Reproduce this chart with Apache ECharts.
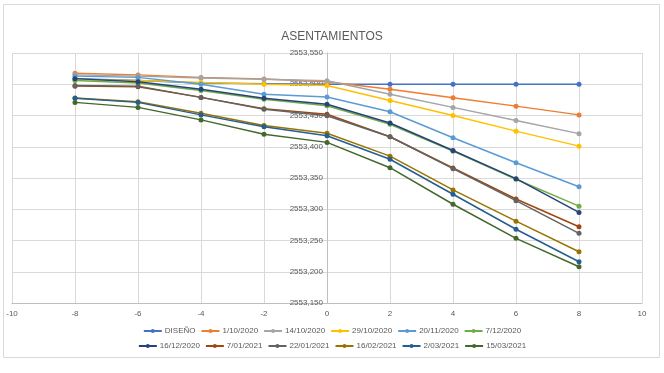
<!DOCTYPE html>
<html><head><meta charset="utf-8">
<script src="https://cdn.jsdelivr.net/npm/echarts@6/dist/echarts.min.js"></script>
<style>html,body{margin:0;padding:0;background:#fff}#c{width:664px;height:373px}</style>
</head><body><div id="c"></div>
<script>
const xValues = [-8, -6, -4, -2, 0, 2, 4, 6, 8];
const seriesNames = ['DISEÑO','1/10/2020','14/10/2020','29/10/2020','20/11/2020','7/12/2020','16/12/2020','7/01/2021','22/01/2021','16/02/2021','2/03/2021','15/03/2021'];
const diseno   = [2553.509, 2553.506, 2553.502, 2553.501, 2553.500, 2553.500, 2553.500, 2553.500, 2553.500];
const s011020  = [2553.5175, 2553.515, 2553.511, 2553.5085, 2553.504, 2553.492, 2553.4785, 2553.465, 2553.451];
const s141020  = [2553.515, 2553.513, 2553.510, 2553.508, 2553.5057, 2553.484, 2553.463, 2553.442, 2553.421];
const s291020  = [2553.507, 2553.506, 2553.503, 2553.500, 2553.498, 2553.474, 2553.450, 2553.425, 2553.401];
const s201120  = [2553.513, 2553.511, 2553.500, 2553.484, 2553.4796, 2553.456, 2553.4145, 2553.3745, 2553.336];
const s071220  = [2553.506, 2553.502, 2553.490, 2553.476, 2553.4657, 2553.436, 2553.393, 2553.348, 2553.305];
const s161220  = [2553.509, 2553.504, 2553.492, 2553.4775, 2553.468, 2553.438, 2553.394, 2553.349, 2553.295];
const s070121  = [2553.497, 2553.496, 2553.479, 2553.461, 2553.452, 2553.416, 2553.366, 2553.3164, 2553.272];
const s220121  = [2553.498, 2553.497, 2553.479, 2553.460, 2553.4497, 2553.416, 2553.365, 2553.3137, 2553.2615];
const s160221  = [2553.478, 2553.472, 2553.4535, 2553.434, 2553.4215, 2553.385, 2553.331, 2553.281, 2553.232];
const s020321  = [2553.4775, 2553.471, 2553.451, 2553.432, 2553.4177, 2553.380, 2553.324, 2553.268, 2553.216];
const s150321  = [2553.471, 2553.463, 2553.443, 2553.420, 2553.407, 2553.3665, 2553.308, 2553.2535, 2553.208];
const allValues = [diseno, s011020, s141020, s291020, s201120, s071220, s161220, s070121, s220121, s160221, s020321, s150321];
const xTicks = {min: -10, max: 10, step: 2};
const yTicks = {min: 2553.15, max: 2553.55, step: 0.05};

const colors = ['#4472C4','#ED7D31','#A5A5A5','#FFC000','#5B9BD5','#70AD47','#264478','#9E480E','#636363','#997300','#255E91','#43682B'];
const font = 'Liberation Sans, Arial, sans-serif';

const series = seriesNames.map((n, i) => ({
  name: n, type: 'line',
  data: xValues.map((x, j) => [x, allValues[i][j]]),
  symbol: 'circle', symbolSize: 5,
  lineStyle: {width: 1.5},
  itemStyle: {color: colors[i]},
  z: 3 + i
}));

const legendCommon = {
  itemWidth: 18, itemHeight: 5, itemGap: 5,
  textStyle: {fontFamily: font, fontSize: 8, color: '#595959', padding: [0,0,0,-2]},
  left: 'center'
};

const gridLeft = 12, gridRight = 22, W = 664;
const zeroOffset = -((W - gridLeft - gridRight) * (0 - xTicks.min) / (xTicks.max - xTicks.min));

const chart = echarts.init(document.getElementById('c'), null, {renderer: 'canvas'});
chart.setOption({
  animation: false,
  color: colors,
  title: {text: 'ASENTAMIENTOS', left: 'center', top: 26,
    textStyle: {fontFamily: font, fontSize: 12, fontWeight: 'normal', color: '#595959'}},
  grid: {left: gridLeft, right: gridRight, top: 53, bottom: 70, containLabel: false, outerBoundsMode: 'none'},
  legend: [
    Object.assign({}, legendCommon, {data: seriesNames.slice(0, 6), top: 322}),
    Object.assign({}, legendCommon, {data: seriesNames.slice(6), top: 337})
  ],
  xAxis: {
    type: 'value', min: xTicks.min, max: xTicks.max, interval: xTicks.step,
    axisLine: {show: true, onZero: false, lineStyle: {color: '#bfbfbf'}},
    axisTick: {show: false},
    axisLabel: {fontFamily: font, fontSize: 8, color: '#595959', margin: 7},
    splitLine: {show: true, lineStyle: {color: '#d9d9d9', width: 1}}
  },
  yAxis: {
    type: 'value', min: yTicks.min, max: yTicks.max, interval: yTicks.step,
    position: 'left', offset: zeroOffset,
    axisLine: {show: true, onZero: false, lineStyle: {color: '#bfbfbf'}},
    axisTick: {show: false},
    axisLabel: {fontFamily: font, fontSize: 8, color: '#595959', margin: 4,
      formatter: v => v.toFixed(3).replace('.', ',')},
    splitLine: {show: true, lineStyle: {color: '#d9d9d9', width: 1}}
  },
  graphic: [{type: 'rect', shape: {x: 3.5, y: 4.5, width: 656, height: 353},
    style: {fill: 'none', stroke: '#d9d9d9', lineWidth: 1}, silent: true, z: -1}],
  series: series
});
</script></body></html>
